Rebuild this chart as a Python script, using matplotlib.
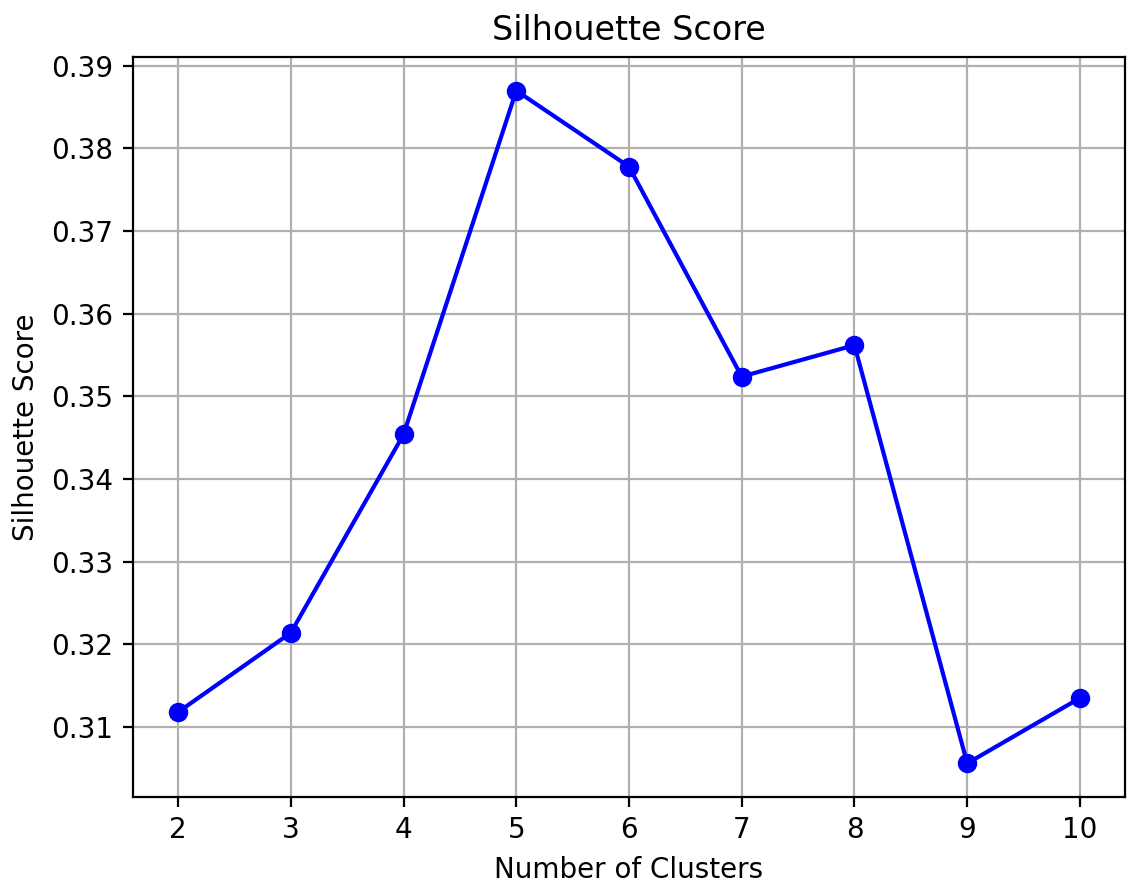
import matplotlib
matplotlib.use("Agg")
import matplotlib.pyplot as plt

clusters = [2, 3, 4, 5, 6, 7, 8, 9, 10]
scores = [0.3118, 0.3214, 0.3454, 0.3870, 0.3778, 0.3524, 0.3562, 0.3056, 0.3135]

fig = plt.figure(figsize=(5.7, 4.46), dpi=200)
ax = fig.add_axes([133 / 1140, 1 - 797 / 892, (1125 - 133) / 1140, (797 - 57) / 892])
ax.plot(clusters, scores, marker='o', color='blue')
ax.set_title('Silhouette Score')
ax.set_xlabel('Number of Clusters')
ax.set_ylabel('Silhouette Score')
ax.set_xticks(clusters)
ax.grid(True)
fig.savefig('out.png', dpi=200)
